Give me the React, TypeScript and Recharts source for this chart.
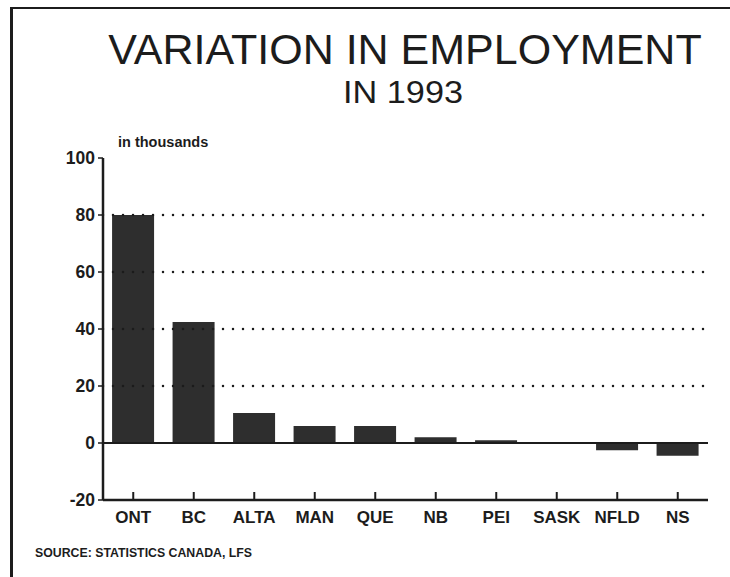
import { Bar, BarChart, ReferenceLine, XAxis, YAxis } from "recharts";

const provinces = ["ONT", "BC", "ALTA", "MAN", "QUE", "NB", "PEI", "SASK", "NFLD", "NS"];
const change = [80, 42.5, 10.5, 6, 6, 2, 1, 0.3, -2.5, -4.5];
const yTicks = [-20, 0, 20, 40, 60, 80, 100];
const gridLevels = [20, 40, 60, 80];

const data = provinces.map((p, i) => ({ province: p, change: change[i] }));

const INK = "#1c1c1c";
const FONT = "'Liberation Sans', Arial, sans-serif";

function ProvinceTick(props: any) {
  const { x, y, payload } = props;
  return (
    <g>
      <line x1={x} x2={x} y1={y} y2={y - 8} stroke={INK} strokeWidth={2} />
      <text
        x={x}
        y={y + 23}
        textAnchor="middle"
        fontFamily={FONT}
        fontWeight="bold"
        fontSize={17}
        fill={INK}
      >
        {payload.value}
      </text>
    </g>
  );
}

export default function App() {
  return (
    <div
      style={{
        position: "absolute",
        left: 0,
        top: 0,
        width: 730,
        height: 577,
        background: "#fff",
        overflow: "hidden",
      }}
    >
      {/* scanned page frame */}
      <div
        style={{
          position: "absolute",
          left: 10,
          top: 7,
          width: 730,
          height: 600,
          borderLeft: `3px solid ${INK}`,
          borderTop: `2px solid ${INK}`,
        }}
      />
      <svg
        width={730}
        height={577}
        style={{ position: "absolute", left: 0, top: 0, pointerEvents: "none" }}
      >
        <text
          x={405}
          y={64}
          textAnchor="middle"
          fontFamily={FONT}
          fontSize={43}
          fill={INK}
        >
          VARIATION IN EMPLOYMENT
        </text>
        <text
          x={403}
          y={103}
          textAnchor="middle"
          fontFamily={FONT}
          fontSize={32}
          fill={INK}
          textLength={120}
          lengthAdjust="spacingAndGlyphs"
        >
          IN 1993
        </text>
        <text x={118} y={147} fontFamily={FONT} fontWeight="bold" fontSize={14.5} fill={INK}>
          in thousands
        </text>
        <text
          x={35}
          y={557}
          fontFamily={FONT}
          fontWeight="bold"
          fontSize={13}
          fill={INK}
          textLength={217}
          lengthAdjust="spacingAndGlyphs"
        >
          SOURCE: STATISTICS CANADA, LFS
        </text>
      </svg>
      <BarChart
        width={730}
        height={577}
        data={data}
        margin={{ top: 158, right: 22, bottom: 37, left: 53 }}
        barCategoryGap="15%"
        style={{ position: "absolute", left: 0, top: 0 }}
      >
        <XAxis
          dataKey="province"
          height={40}
          tickSize={0}
          tickMargin={0}
          tick={<ProvinceTick />}
          axisLine={{ stroke: INK, strokeWidth: 2.5 }}
          tickLine={false}
          interval={0}
        />
        <XAxis
          xAxisId="top"
          dataKey="province"
          orientation="top"
          height={0}
          tick={false}
          tickLine={false}
          axisLine={{ stroke: INK, strokeWidth: 2.5 }}
        />
        <YAxis
          domain={[-20, 100]}
          ticks={yTicks}
          width={50}
          tickSize={5}
          tickMargin={3}
          allowDataOverflow
          axisLine={{ stroke: INK, strokeWidth: 2.5 }}
          tickLine={{ stroke: INK, strokeWidth: 1.5 }}
          tick={{ fill: INK, fontSize: 17.5, fontWeight: "bold", fontFamily: FONT }}
        />
        <YAxis
          yAxisId="right"
          orientation="right"
          domain={[-20, 100]}
          width={0}
          tick={false}
          tickLine={false}
          axisLine={{ stroke: INK, strokeWidth: 2.5 }}
        />
        {gridLevels.map((v) => (
          <ReferenceLine
            key={v}
            y={v}
            stroke={INK}
            strokeWidth={2.5}
            strokeDasharray="0 10"
            strokeLinecap="round"
          />
        ))}
        <Bar dataKey="change" fill="#2e2e2e" isAnimationActive={false} />
        <ReferenceLine y={0} stroke={INK} strokeWidth={2} />
      </BarChart>
    </div>
  );
}
